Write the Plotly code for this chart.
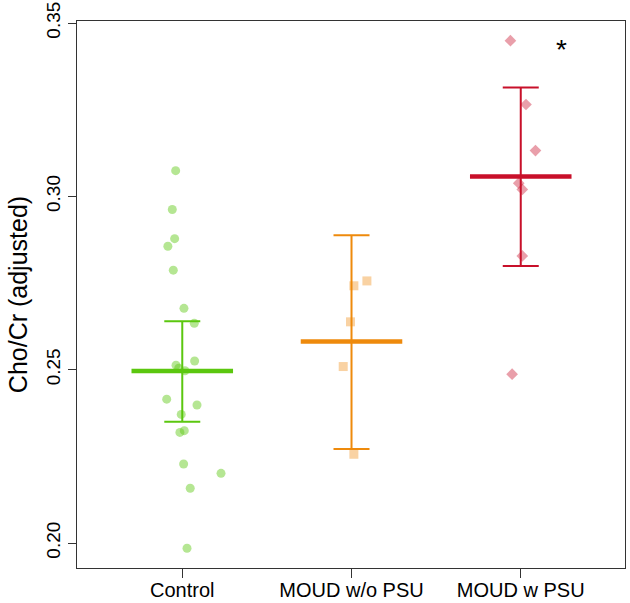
import plotly.graph_objects as go

groups = ["Control", "MOUD w/o PSU", "MOUD w PSU"]

control_vals = [0.3074, 0.2962, 0.2878, 0.2856, 0.2787, 0.2677, 0.2634, 0.2525, 0.2513, 0.2504,
                0.2497, 0.2415, 0.2398, 0.2371, 0.2319, 0.2324, 0.2228, 0.2201, 0.2158, 0.1985]
control_jit = [-0.039, -0.059, -0.045, -0.085, -0.053, 0.010, 0.071, 0.073, -0.037, -0.021,
               0.016, -0.092, 0.087, -0.006, -0.014, 0.012, 0.008, 0.229, 0.047, 0.028]

moud_nopsu_vals = [0.2742, 0.2756, 0.2638, 0.2509, 0.2256]
moud_nopsu_jit = [0.014, 0.091, -0.006, -0.049, 0.014]

moud_psu_vals = [0.3449, 0.3265, 0.3132, 0.3038, 0.3020, 0.2828, 0.2487]
moud_psu_jit = [-0.061, 0.031, 0.087, -0.012, 0.009, 0.009, -0.051]

means = [0.2496, 0.2581, 0.3057]
ci_low = [0.2350, 0.2271, 0.2799]
ci_high = [0.2640, 0.2888, 0.3314]

line_colors = ["#5BC70F", "#EE8A0C", "#C8102A"]
point_colors = ["rgba(91,199,15,0.45)", "rgba(238,138,12,0.38)", "rgba(200,16,42,0.40)"]
symbols = ["circle", "square", "diamond"]
msizes = [9, 9, 9]

yticks = [0.20, 0.25, 0.30, 0.35]
ytick_text = ["0.20", "0.25", "0.30", "0.35"]

all_vals = [control_vals, moud_nopsu_vals, moud_psu_vals]
all_jit = [control_jit, moud_nopsu_jit, moud_psu_jit]

fig = go.Figure()
for i, g in enumerate(groups):
    xpos = i + 1
    fig.add_trace(go.Scatter(
        x=[xpos + j for j in all_jit[i]], y=all_vals[i], mode="markers",
        marker=dict(symbol=symbols[i], size=msizes[i], color=point_colors[i], line=dict(width=0)),
        showlegend=False, hoverinfo="y"))
    # error bars
    fig.add_trace(go.Scatter(
        x=[xpos], y=[means[i]], mode="markers", marker=dict(size=0.1, color="rgba(0,0,0,0)"),
        error_y=dict(type="data", symmetric=False, array=[ci_high[i] - means[i]],
                     arrayminus=[means[i] - ci_low[i]], color=line_colors[i], thickness=2, width=18),
        showlegend=False, hoverinfo="skip"))
    # mean line
    fig.add_trace(go.Scatter(
        x=[xpos - 0.3, xpos + 0.3], y=[means[i], means[i]], mode="lines",
        line=dict(color=line_colors[i], width=4.5), showlegend=False, hoverinfo="skip"))

fig.add_annotation(x=3.242, y=0.3434, text="*", showarrow=False, xref="x", yref="y",
                   font=dict(size=28, color="black", family="Liberation Sans, Arial"),
                   yanchor="middle", yshift=-4)

fig.update_layout(
    width=630, height=603,
    margin=dict(l=77, r=5, t=21, b=35),
    plot_bgcolor="white", paper_bgcolor="white",
    font=dict(family="Liberation Sans, Arial, sans-serif", color="black"),
    xaxis=dict(range=[0.378, 3.616], tickvals=[1, 2, 3], ticktext=groups, automargin=False,
               showline=True, mirror=True, linecolor="#333", linewidth=1,
               ticks="outside", ticklen=9, tickcolor="#333", tickwidth=1,
               showgrid=False, zeroline=False, tickfont=dict(size=20), ticklabelstandoff=-5),
    yaxis=dict(range=[0.19279, 0.35058], tickvals=yticks, ticktext=ytick_text, automargin=False,
               showline=True, mirror=True, linecolor="#333", linewidth=1,
               ticks="outside", ticklen=8, tickcolor="#333", tickwidth=1,
               showgrid=False, zeroline=False, tickfont=dict(size=19), tickangle=-90,
               title=dict(text="Cho/Cr (adjusted)", font=dict(size=25), standoff=8)),
)

fig.write_html("out.html")
